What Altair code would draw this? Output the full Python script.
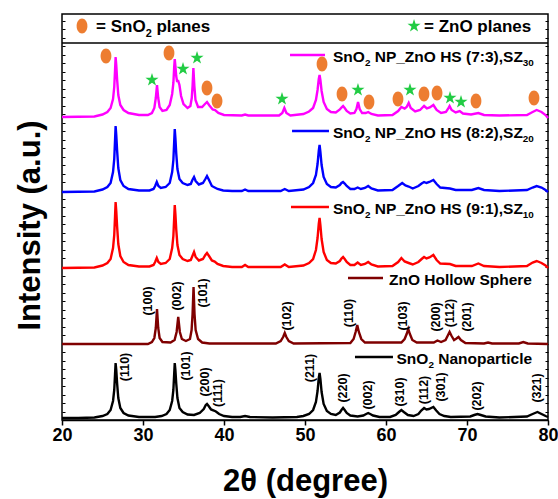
import altair as alt
import pandas as pd

FONT = "Liberation Sans"
W, H = 486, 406
PX_PER_DEG = W / 60.0

# ---------------- XRD traces: (2theta, intensity a.u.) ----------------
SNO2_NP = [(20, 2), (22, 2), (24, 2.5), (25, 4), (25.6, 6), (26.0, 10), (26.3, 19), (26.45, 30), (26.55, 46),
           (26.62, 57), (26.7, 50), (26.8, 37), (26.95, 22), (27.2, 12), (27.6, 7), (28.2, 4.5), (29.5, 3),
           (31.5, 3), (32.3, 4), (32.9, 6), (33.3, 10), (33.6, 19), (33.75, 30), (33.85, 46), (33.92, 57),
           (34.0, 50), (34.1, 37), (34.25, 22), (34.5, 12), (34.9, 8), (35.5, 5.5), (36.3, 5), (37.0, 7),
           (37.5, 11), (37.75, 15), (37.9, 16), (38.1, 14), (38.4, 10.5), (38.75, 9.5), (39.0, 8.5), (39.4, 6),
           (40.0, 4), (41, 3), (42.0, 3), (42.6, 4), (43.2, 3), (46, 2.5), (49, 3), (49.8, 4), (50.5, 6),
           (51.0, 10), (51.35, 18), (51.55, 29), (51.7, 42), (51.8, 47), (51.9, 41), (52.05, 28), (52.3, 16),
           (52.7, 9), (53.2, 6), (53.8, 5), (54.3, 7.5), (54.5, 10), (54.7, 12), (54.9, 10), (55.15, 7),
           (55.6, 4.5), (56.5, 3.5), (57.2, 4.5), (57.55, 6), (57.8, 7), (58.05, 6), (58.4, 4.5), (59.2, 3),
           (60.5, 3), (61.2, 5), (61.6, 8), (61.9, 10), (62.2, 8), (62.7, 5), (63.4, 4), (64.0, 6), (64.35, 9.5),
           (64.7, 12), (65.0, 10.5), (65.3, 11), (65.85, 13), (66.2, 9.5), (66.6, 6), (67.2, 4), (68, 3),
           (70.4, 3.5), (70.9, 5), (71.3, 6), (71.7, 5), (72.3, 3.5), (74, 2.5), (77.4, 3.5), (78.1, 6),
           (78.7, 8), (79.2, 6), (79.7, 4), (80, 3)]

ZNO_HS = [(20, 76), (30.6, 76), (31.1, 78), (31.4, 82), (31.58, 92), (31.73, 111), (31.88, 92), (32.05, 82),
          (32.4, 78), (33.4, 77.5), (33.9, 80), (34.15, 88), (34.35, 103), (34.55, 88), (34.8, 81), (35.3, 79),
          (35.8, 81), (36.0, 90), (36.12, 106), (36.24, 133), (36.36, 106), (36.5, 90), (36.8, 81), (37.3, 77.5),
          (38.2, 76.5), (46.4, 76.5), (47.0, 79), (47.3, 83), (47.5, 87), (47.7, 83), (48.0, 79), (48.6, 76.5),
          (55.6, 77), (56.0, 81), (56.25, 88), (56.45, 95), (56.65, 88), (56.95, 81), (57.4, 77.5), (61.9, 77.5),
          (62.3, 81), (62.55, 86), (62.75, 91), (62.95, 86), (63.25, 80), (63.8, 77.5), (65.9, 77.5),
          (66.35, 79.5), (66.8, 78), (67.35, 80), (67.6, 84), (67.85, 88), (68.1, 84), (68.4, 80), (68.7, 81.5),
          (68.95, 83), (69.25, 80), (69.8, 77), (72.1, 76.5), (72.6, 77.5), (73.1, 76.5), (76.4, 76.5),
          (76.95, 78), (77.5, 76.5), (80, 76)]

SZ10 = [(20, 152), (24, 152.5), (25, 154.5), (25.6, 157), (26.0, 161), (26.3, 172), (26.45, 185), (26.55, 204),
        (26.62, 218), (26.7, 209), (26.8, 194), (26.95, 176), (27.2, 164), (27.6, 158), (28.2, 155),
        (29.5, 153.5), (30.8, 153.5), (31.3, 155), (31.5, 158), (31.7, 162), (31.9, 158), (32.2, 156),
        (32.8, 157), (33.3, 161), (33.6, 172), (33.75, 184), (33.85, 202), (33.92, 215), (34.0, 206),
        (34.1, 191), (34.25, 175), (34.5, 165), (34.9, 161), (35.5, 159), (35.9, 160), (36.1, 164), (36.3, 168),
        (36.5, 163), (36.9, 159.5), (37.4, 161), (37.7, 165), (37.9, 167), (38.15, 164), (38.5, 159.5),
        (38.85, 158.5), (39.2, 156), (39.9, 154), (41, 153), (42.2, 153), (42.6, 155), (43.0, 153), (47.0, 153),
        (47.5, 155.5), (48.0, 153), (49.8, 154.5), (50.5, 157), (51.0, 161), (51.35, 170), (51.55, 182),
        (51.7, 196), (51.8, 202), (51.9, 195), (52.05, 181), (52.3, 168), (52.7, 160), (53.2, 157),
        (53.8, 156.5), (54.3, 159), (54.5, 161.5), (54.7, 163), (54.9, 161), (55.15, 158), (55.6, 155),
        (56.1, 155), (56.5, 157.5), (56.9, 155), (57.4, 156), (57.8, 158), (58.2, 155.5), (59, 153.5),
        (60.8, 154), (61.5, 158), (61.9, 162), (62.3, 158.5), (62.8, 157), (63.3, 155.5), (64.0, 158),
        (64.4, 161), (64.7, 163), (65.0, 161.5), (65.35, 162.5), (65.85, 165), (66.25, 160), (66.7, 156.5),
        (67.9, 156), (68.6, 154), (70.6, 154), (71.4, 156.5), (72.1, 154), (74, 153), (77.4, 154),
        (78.1, 157.5), (78.6, 159), (79.2, 157), (79.7, 154.5), (80, 152)]

SZ20 = [(20, 228), (24, 228.5), (25, 230.5), (25.6, 233), (26.0, 237), (26.3, 248), (26.45, 261), (26.55, 280),
        (26.62, 294), (26.7, 285), (26.8, 270), (26.95, 252), (27.2, 240), (27.6, 234), (28.2, 231),
        (29.5, 229.5), (30.8, 229.5), (31.3, 231), (31.5, 234), (31.7, 238), (31.9, 234), (32.2, 232),
        (32.8, 233), (33.3, 237), (33.6, 248), (33.75, 260), (33.85, 278), (33.92, 291), (34.0, 282),
        (34.1, 267), (34.25, 251), (34.5, 241), (34.9, 237), (35.5, 235), (35.9, 236), (36.1, 240), (36.3, 243),
        (36.5, 239), (36.9, 235.5), (37.4, 237), (37.7, 241), (37.9, 244), (38.15, 240), (38.5, 234),
        (38.85, 232.5), (39.2, 231), (39.9, 229.5), (41, 229), (42.2, 229), (42.6, 230.5), (43, 229),
        (47.0, 229), (47.5, 231), (48.0, 229), (49.8, 230.5), (50.5, 233), (51.0, 237), (51.35, 245),
        (51.55, 256), (51.7, 269), (51.8, 275), (51.9, 268), (52.05, 255), (52.3, 243), (52.7, 236),
        (53.2, 233), (53.8, 232.5), (54.3, 235), (54.5, 237), (54.7, 238), (54.9, 236.5), (55.15, 234),
        (55.6, 231), (56.1, 231), (56.5, 232.5), (56.9, 231), (57.4, 232), (57.8, 234), (58.2, 231.5),
        (59, 229.5), (60.8, 230), (61.5, 234), (62.0, 237), (62.4, 234.5), (62.8, 233.5), (63.3, 231.5),
        (64.0, 234), (64.4, 236.5), (64.7, 238), (65.0, 237), (65.35, 238), (65.85, 240), (66.25, 236),
        (66.7, 232.5), (67.9, 231.5), (68.6, 230), (70.6, 230), (71.4, 232), (72.1, 230), (74, 229),
        (77.4, 230), (78.1, 232.5), (78.6, 234), (79.2, 232.5), (79.7, 230), (80, 228)]

SZ30 = [(20, 303), (24, 303.5), (25, 305.5), (25.6, 308), (26.0, 312), (26.3, 321), (26.45, 333), (26.55, 350),
        (26.62, 363), (26.7, 355), (26.8, 341), (26.95, 325), (27.2, 315), (27.6, 310), (28.2, 307),
        (29.5, 305), (30.6, 305), (31.1, 307), (31.4, 312), (31.58, 322), (31.73, 335), (31.88, 322),
        (32.05, 313), (32.4, 309), (32.9, 310), (33.3, 315), (33.6, 326), (33.75, 337), (33.85, 353),
        (33.92, 361), (34.0, 354), (34.1, 344), (34.2, 339), (34.35, 339), (34.5, 335), (34.7, 324),
        (35.0, 316), (35.5, 312), (35.85, 314), (36.02, 322), (36.12, 334), (36.22, 352), (36.34, 334),
        (36.48, 320), (36.8, 313), (37.3, 313), (37.65, 316), (37.9, 318), (38.2, 314.5), (38.6, 310.5),
        (38.9, 310), (39.3, 307), (40.0, 305), (42.2, 304.5), (42.6, 305.5), (43, 304.5), (46.8, 304.5),
        (47.2, 307), (47.45, 312), (47.7, 307), (48.2, 304.5), (49.8, 306), (50.5, 308.5), (51.0, 312),
        (51.35, 320), (51.55, 330), (51.7, 341), (51.8, 345), (51.9, 340), (52.05, 329), (52.3, 318),
        (52.7, 311), (53.2, 308), (53.8, 307.5), (54.3, 310.5), (54.5, 312.5), (54.7, 314), (54.9, 312),
        (55.15, 309), (55.6, 306.5), (56.1, 307), (56.35, 311), (56.55, 318), (56.75, 311), (57.05, 307),
        (57.5, 307), (57.8, 308), (58.2, 306), (59, 304.5), (60.8, 305), (61.5, 309), (61.9, 313),
        (62.3, 311.5), (62.55, 313), (62.8, 317), (63.05, 312), (63.6, 308.5), (64.2, 310), (64.7, 314),
        (65.05, 311.5), (65.4, 312.5), (65.85, 315), (66.25, 310), (66.8, 307), (67.4, 308), (67.65, 311),
        (67.85, 314), (68.1, 310), (68.6, 307.5), (69.1, 309), (69.5, 306.5), (70.5, 305.5), (71.4, 307),
        (72.1, 305), (74, 304.5), (77.4, 305), (78.1, 308), (78.6, 310), (79.2, 308), (79.7, 305), (80, 302)]

SERIES = ["SnO2 NP", "ZnO HS", "SZ10", "SZ20", "SZ30"]
TRACES = [SNO2_NP, ZNO_HS, SZ10, SZ20, SZ30]
COLORS = ["#000000", "#7F0000", "#FF0000", "#0000FF", "#FF00FF"]

# ---------------- plane markers on the SZ30 trace ----------------
SNO2_MARK_X = [25.43, 33.21, 37.90, 39.14, 52.10, 54.57, 57.90, 61.48, 64.69, 66.30, 71.11, 78.27]
SNO2_MARK_Y = [364, 367, 332, 319, 356, 326, 318, 321, 326, 327, 319, 322]
ZNO_MARK_X = [31.11, 34.94, 36.67, 47.16, 56.54, 62.96, 67.90, 69.26]
ZNO_MARK_Y = [340, 351, 362, 321, 330, 330, 322, 318]

# ---------------- Miller-index labels ----------------
ZNO_HKL = ["(100)", "(002)", "(101)", "(102)", "(110)", "(103)", "(200)", "(112)", "(201)"]
ZNO_HKL_X = [30.62, 34.20, 37.41, 47.78, 55.43, 62.10, 66.17, 67.90, 70.00]
ZNO_HKL_Y = [119, 124, 127, 104, 107, 104, 103, 107, 103]
SNO2_HKL = ["(110)", "(101)", "(200)", "(111)", "(211)", "(220)", "(002)", "(310)", "(112)", "(301)", "(202)", "(321)"]
SNO2_HKL_X = [27.78, 35.31, 37.65, 39.26, 50.62, 54.69, 57.78, 61.73, 64.69, 66.79, 71.23, 78.64]
SNO2_HKL_Y = [53, 54, 38, 27, 52, 32, 25, 28, 30, 33, 24, 32]

# ---------------- legend entries ----------------
LEG_SERIES = ["SZ30", "SZ20", "SZ10", "ZnO HS", "SnO2 NP"]
LEG_X1 = [48.15, 48.40, 48.27, 55.31, 56.17]
LEG_X2 = [52.47, 52.96, 52.96, 59.63, 60.86]
LEG_Y = [365, 289, 213, 142, 63]
LEG_TEXT_X = [53.46, 53.46, 53.46, 60.37, 61.30]
LEG_PARTS = [
    [("SnO", 0), ("2", 1), (" NP_ZnO HS (7:3),SZ", 0), ("30", 1)],
    [("SnO", 0), ("2", 1), (" NP_ZnO HS (8:2),SZ", 0), ("20", 1)],
    [("SnO", 0), ("2", 1), (" NP_ZnO HS (9:1),SZ", 0), ("10", 1)],
    [("ZnO Hollow Sphere", 0)],
    [("SnO", 0), ("2", 1), (" Nanoparticle", 0)],
]
HEADER_PARTS = [[("= SnO", 0), ("2", 1), (" planes", 0)], [("= ZnO planes", 0)]]
HEADER_TEXT_X = [24.2, 64.69]
HEADER_MARK_X = [22.47, 63.46]
HEADER_Y = 394
HEADER_LINE_Y = 377

# Arial-bold advance widths (per 1000 em) for placing subscripts
AW = {' ': 278, '(': 333, ')': 333, ',': 278, '.': 278, ':': 333, '_': 556, '=': 584,
      'H': 722, 'N': 722, 'O': 778, 'P': 667, 'S': 667, 'Z': 611,
      'a': 556, 'c': 556, 'e': 556, 'h': 611, 'i': 278, 'l': 278, 'n': 611, 'o': 611,
      'p': 611, 'r': 389, 's': 556, 't': 333, 'w': 778, 'y': 556}


def tw(s, f):
    return sum(AW.get(c, 556) for c in s) / 1000.0 * f


def build_pieces(x0, base, parts, f):
    rows, px = [], 0.0
    for txt, sub in parts:
        fs = f * 0.64 if sub else f
        lead = len(txt) - len(txt.lstrip(' '))
        px += tw(' ' * lead, fs)
        t = txt.lstrip(' ')
        rows.append(dict(x=x0 + px / PX_PER_DEG, y=base - (4.5 if sub else 0), t=t, s=fs))
        px += tw(t, fs)
    return rows


# ---------------- data frames ----------------
line_rows = []
for name, tr in zip(SERIES, TRACES):
    for x, y in tr:
        line_rows.append(dict(series=name, x=x, y=y))
lines_df = pd.DataFrame(line_rows)

circ_df = pd.DataFrame(dict(x=SNO2_MARK_X + [HEADER_MARK_X[0]], y=SNO2_MARK_Y + [HEADER_Y]))
star_df = pd.DataFrame(dict(x=ZNO_MARK_X + [HEADER_MARK_X[1]], y=ZNO_MARK_Y + [HEADER_Y]))

hkl_df = pd.DataFrame(dict(x=ZNO_HKL_X + SNO2_HKL_X, y=ZNO_HKL_Y + SNO2_HKL_Y, t=ZNO_HKL + SNO2_HKL))

leg_df = pd.DataFrame(dict(series=LEG_SERIES, x=LEG_X1, x2=LEG_X2, y=LEG_Y))

txt_rows = []
for x0, yl, parts in zip(LEG_TEXT_X, LEG_Y, LEG_PARTS):
    txt_rows += build_pieces(x0, yl - 6.5, parts, 15.5)
for x0, parts in zip(HEADER_TEXT_X, HEADER_PARTS):
    txt_rows += build_pieces(x0, HEADER_Y - 6, parts, 17)
txt_df = pd.DataFrame(txt_rows)

hdr_df = pd.DataFrame(dict(x=[20], x2=[80], y=[HEADER_LINE_Y]))

# ---------------- scales / axes ----------------
xs = alt.Scale(domain=[20, 80], nice=False, zero=False)
ys = alt.Scale(domain=[0, H], nice=False, zero=False)
cs = alt.Scale(domain=SERIES, range=COLORS)
YT = [round(i * 8.5, 1) for i in range(48)]

x_axis = alt.Axis(values=[20, 30, 40, 50, 60, 70, 80], format="d", grid=False, labelFlush=False,
                  labelFont=FONT, labelFontWeight="bold", labelFontSize=18, labelColor="black",
                  labelPadding=1, tickColor="black", tickSize=5, tickWidth=1.5,
                  domainColor="black", domainWidth=1.5,
                  title="2θ (degree)", titleFont=FONT, titleFontWeight="bold", titleFontSize=31,
                  titleColor="black", titlePadding=22)
y_title_axis = alt.Axis(orient="left", title="Intensity (a.u.)", titleFont=FONT, titleFontWeight="bold",
                        titleFontSize=31, titleColor="black", titlePadding=16, titleY=211,
                        labels=False, ticks=False, domain=False, grid=False)
y_left_ticks = alt.Axis(orient="right", offset=-W, values=YT, labels=False, domain=False, grid=False,
                        title=None, tickSize=3, tickWidth=1, tickColor="black")
y_right_ticks = alt.Axis(orient="left", offset=-W, values=YT, labels=False, domain=False, grid=False,
                         title=None, tickSize=3, tickWidth=1, tickColor="black")


def X(field="x"):
    return alt.X(f"{field}:Q", scale=xs, axis=x_axis)


lines = alt.Chart(lines_df).mark_line(strokeWidth=2.4).encode(
    x=X(),
    y=alt.Y("y:Q", scale=ys, axis=y_title_axis),
    color=alt.Color("series:N", scale=cs, legend=None),
    detail="series:N",
)

hdr = alt.Chart(hdr_df).mark_rule(color="black", strokeWidth=1.5).encode(
    x=X(), x2="x2:Q",
    y=alt.Y("y:Q", scale=ys, axis=y_left_ticks),
)

leg = alt.Chart(leg_df).mark_rule(strokeWidth=2.6).encode(
    x=X(), x2="x2:Q",
    y=alt.Y("y:Q", scale=ys, axis=y_right_ticks),
    color=alt.Color("series:N", scale=cs, legend=None),
)

ELLIPSE = "M 0 -1 A 0.72 1 0 1 1 0 1 A 0.72 1 0 1 1 0 -1 Z"
STAR = ("M 0 -1 L 0.2245 -0.309 L 0.951 -0.309 L 0.363 0.118 L 0.588 0.809 L 0 0.382 "
        "L -0.588 0.809 L -0.363 0.118 L -0.951 -0.309 L -0.2245 -0.309 Z")

circles = alt.Chart(circ_df).mark_point(shape=ELLIPSE, filled=True, size=225, color="#ED7D31", opacity=1).encode(
    x=X(), y=alt.Y("y:Q", scale=ys, axis=None))
stars = alt.Chart(star_df).mark_point(shape=STAR, filled=True, size=190, color="#22CC44", opacity=1).encode(
    x=X(), y=alt.Y("y:Q", scale=ys, axis=None))

hkl = alt.Chart(hkl_df).mark_text(angle=270, font=FONT, fontWeight="bold", fontSize=12.5, color="black",
                                  align="center", baseline="middle").encode(
    x=X(), y=alt.Y("y:Q", scale=ys, axis=None), text="t:N")

texts = alt.Chart(txt_df).mark_text(font=FONT, fontWeight="bold", color="black", align="left",
                                    baseline="alphabetic").encode(
    x=X(), y=alt.Y("y:Q", scale=ys, axis=None), text="t:N",
    size=alt.Size("s:Q", scale=None, legend=None))

chart = alt.layer(lines, hdr, leg, circles, stars, hkl, texts).resolve_scale(y="independent").properties(
    width=W, height=H,
    autosize=alt.AutoSizeParams(type="none"),
    padding={"left": 62, "top": 14, "right": 10, "bottom": 79},
    background="white",
).configure_view(stroke="black", strokeWidth=1.5)

chart.save("out.html", embed_options={"renderer": "svg", "actions": False})
